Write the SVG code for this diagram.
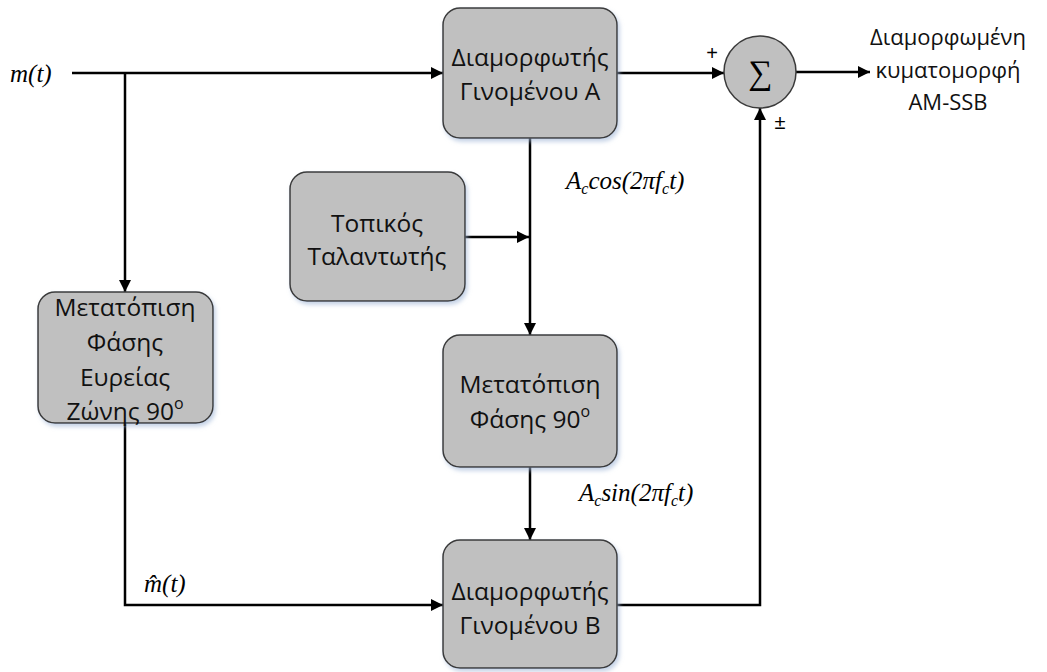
<svg xmlns="http://www.w3.org/2000/svg" width="1047" height="672" viewBox="0 0 1047 672">
<defs>
<marker id="arr" markerUnits="userSpaceOnUse" markerWidth="14" markerHeight="12" refX="12" refY="6" orient="auto">
<path d="M0,0 L12,6 L0,12 z" fill="#000"/>
</marker>
<filter id="sh" x="-10%" y="-10%" width="130%" height="130%">
<feDropShadow dx="2" dy="3" stdDeviation="2" flood-color="#9fb6d6" flood-opacity="0.6"/>
</filter>
</defs>
<style>
.box{fill:#c0c0c0;stroke:#3a3a3a;stroke-width:1.5;filter:url(#sh)}
.t{font-family:"Open Sans","Noto Sans",sans-serif;font-size:24.5px;fill:#111;text-anchor:middle}
.r{font-family:"Open Sans","Noto Sans",sans-serif;font-size:22px;fill:#111;text-anchor:middle}
.m{font-family:"Liberation Serif",serif;font-style:italic;font-size:25px;fill:#000}
.c{fill:none;stroke:#000;stroke-width:2.5}
.s{font-family:"Liberation Sans",sans-serif;font-size:20px;fill:#000;text-anchor:middle}
</style>
<g id="connectors">
<path class="c" d="M72,73 H443" marker-end="url(#arr)"/>
<path class="c" d="M125,73 V292" marker-end="url(#arr)"/>
<path class="c" d="M617,73 H724" marker-end="url(#arr)"/>
<path class="c" d="M796,72 H870" marker-end="url(#arr)"/>
<path class="c" d="M530,138 V335" marker-end="url(#arr)"/>
<path class="c" d="M465,237 H529" marker-end="url(#arr)"/>
<path class="c" d="M530,467 V540" marker-end="url(#arr)"/>
<path class="c" d="M125,423 V605 H443" marker-end="url(#arr)"/>
<path class="c" d="M617,605 H760 V108" marker-end="url(#arr)"/>
</g>
<g id="modA">
<rect class="box" x="443" y="8" width="174" height="130" rx="17"/>
<text class="t" x="530" y="66">Διαμορφωτής</text>
<text class="t" x="530" y="100">Γινομένου Α</text>
</g>
<g id="osc">
<rect class="box" x="290" y="172" width="175" height="129" rx="17"/>
<text class="t" x="377" y="232">Τοπικός</text>
<text class="t" x="377" y="265">Ταλαντωτής</text>
</g>
<g id="phase90">
<rect class="box" x="443" y="335" width="174" height="132" rx="17"/>
<text class="t" x="530" y="393">Μετατόπιση</text>
<text class="t" x="530" y="428">Φάσης 90<tspan font-size="16" dy="-11">o</tspan></text>
</g>
<g id="wideband">
<rect class="box" x="38" y="292" width="175" height="131" rx="17"/>
<text class="t" x="125" y="316">Μετατόπιση</text>
<text class="t" x="125" y="351">Φάσης</text>
<text class="t" x="125" y="386">Ευρείας</text>
<text class="t" x="125" y="420">Ζώνης 90<tspan font-size="16" dy="-11">o</tspan></text>
</g>
<g id="modB">
<rect class="box" x="443" y="540" width="174" height="128" rx="17"/>
<text class="t" x="530" y="600">Διαμορφωτής</text>
<text class="t" x="530" y="634">Γινομένου Β</text>
</g>
<g id="sum">
<circle cx="760" cy="72" r="36" fill="#c0c0c0" stroke="#3a3a3a" stroke-width="1.5"/>
<text x="760" y="84" font-family="Liberation Serif,serif" font-size="34" text-anchor="middle">∑</text>
<text class="s" x="712" y="60">+</text>
<text class="s" x="780" y="129">±</text>
</g>
<g id="labels">
<text class="m" x="10" y="82">m(t)</text>
<text class="m" x="566" y="189">A<tspan font-size="16" dy="5">c</tspan><tspan dy="-5">cos(2πf</tspan><tspan font-size="16" dy="5">c</tspan><tspan dy="-5">t)</tspan></text>
<text class="m" x="579" y="501">A<tspan font-size="16" dy="5">c</tspan><tspan dy="-5">sin(2πf</tspan><tspan font-size="16" dy="5">c</tspan><tspan dy="-5">t)</tspan></text>
<text class="m" x="144" y="592">m̂(t)</text>
<text class="r" x="948" y="45">Διαμορφωμένη</text>
<text class="r" x="948" y="78">κυματομορφή</text>
<text class="r" x="948" y="110">AM-SSB</text>
</g>
</svg>
